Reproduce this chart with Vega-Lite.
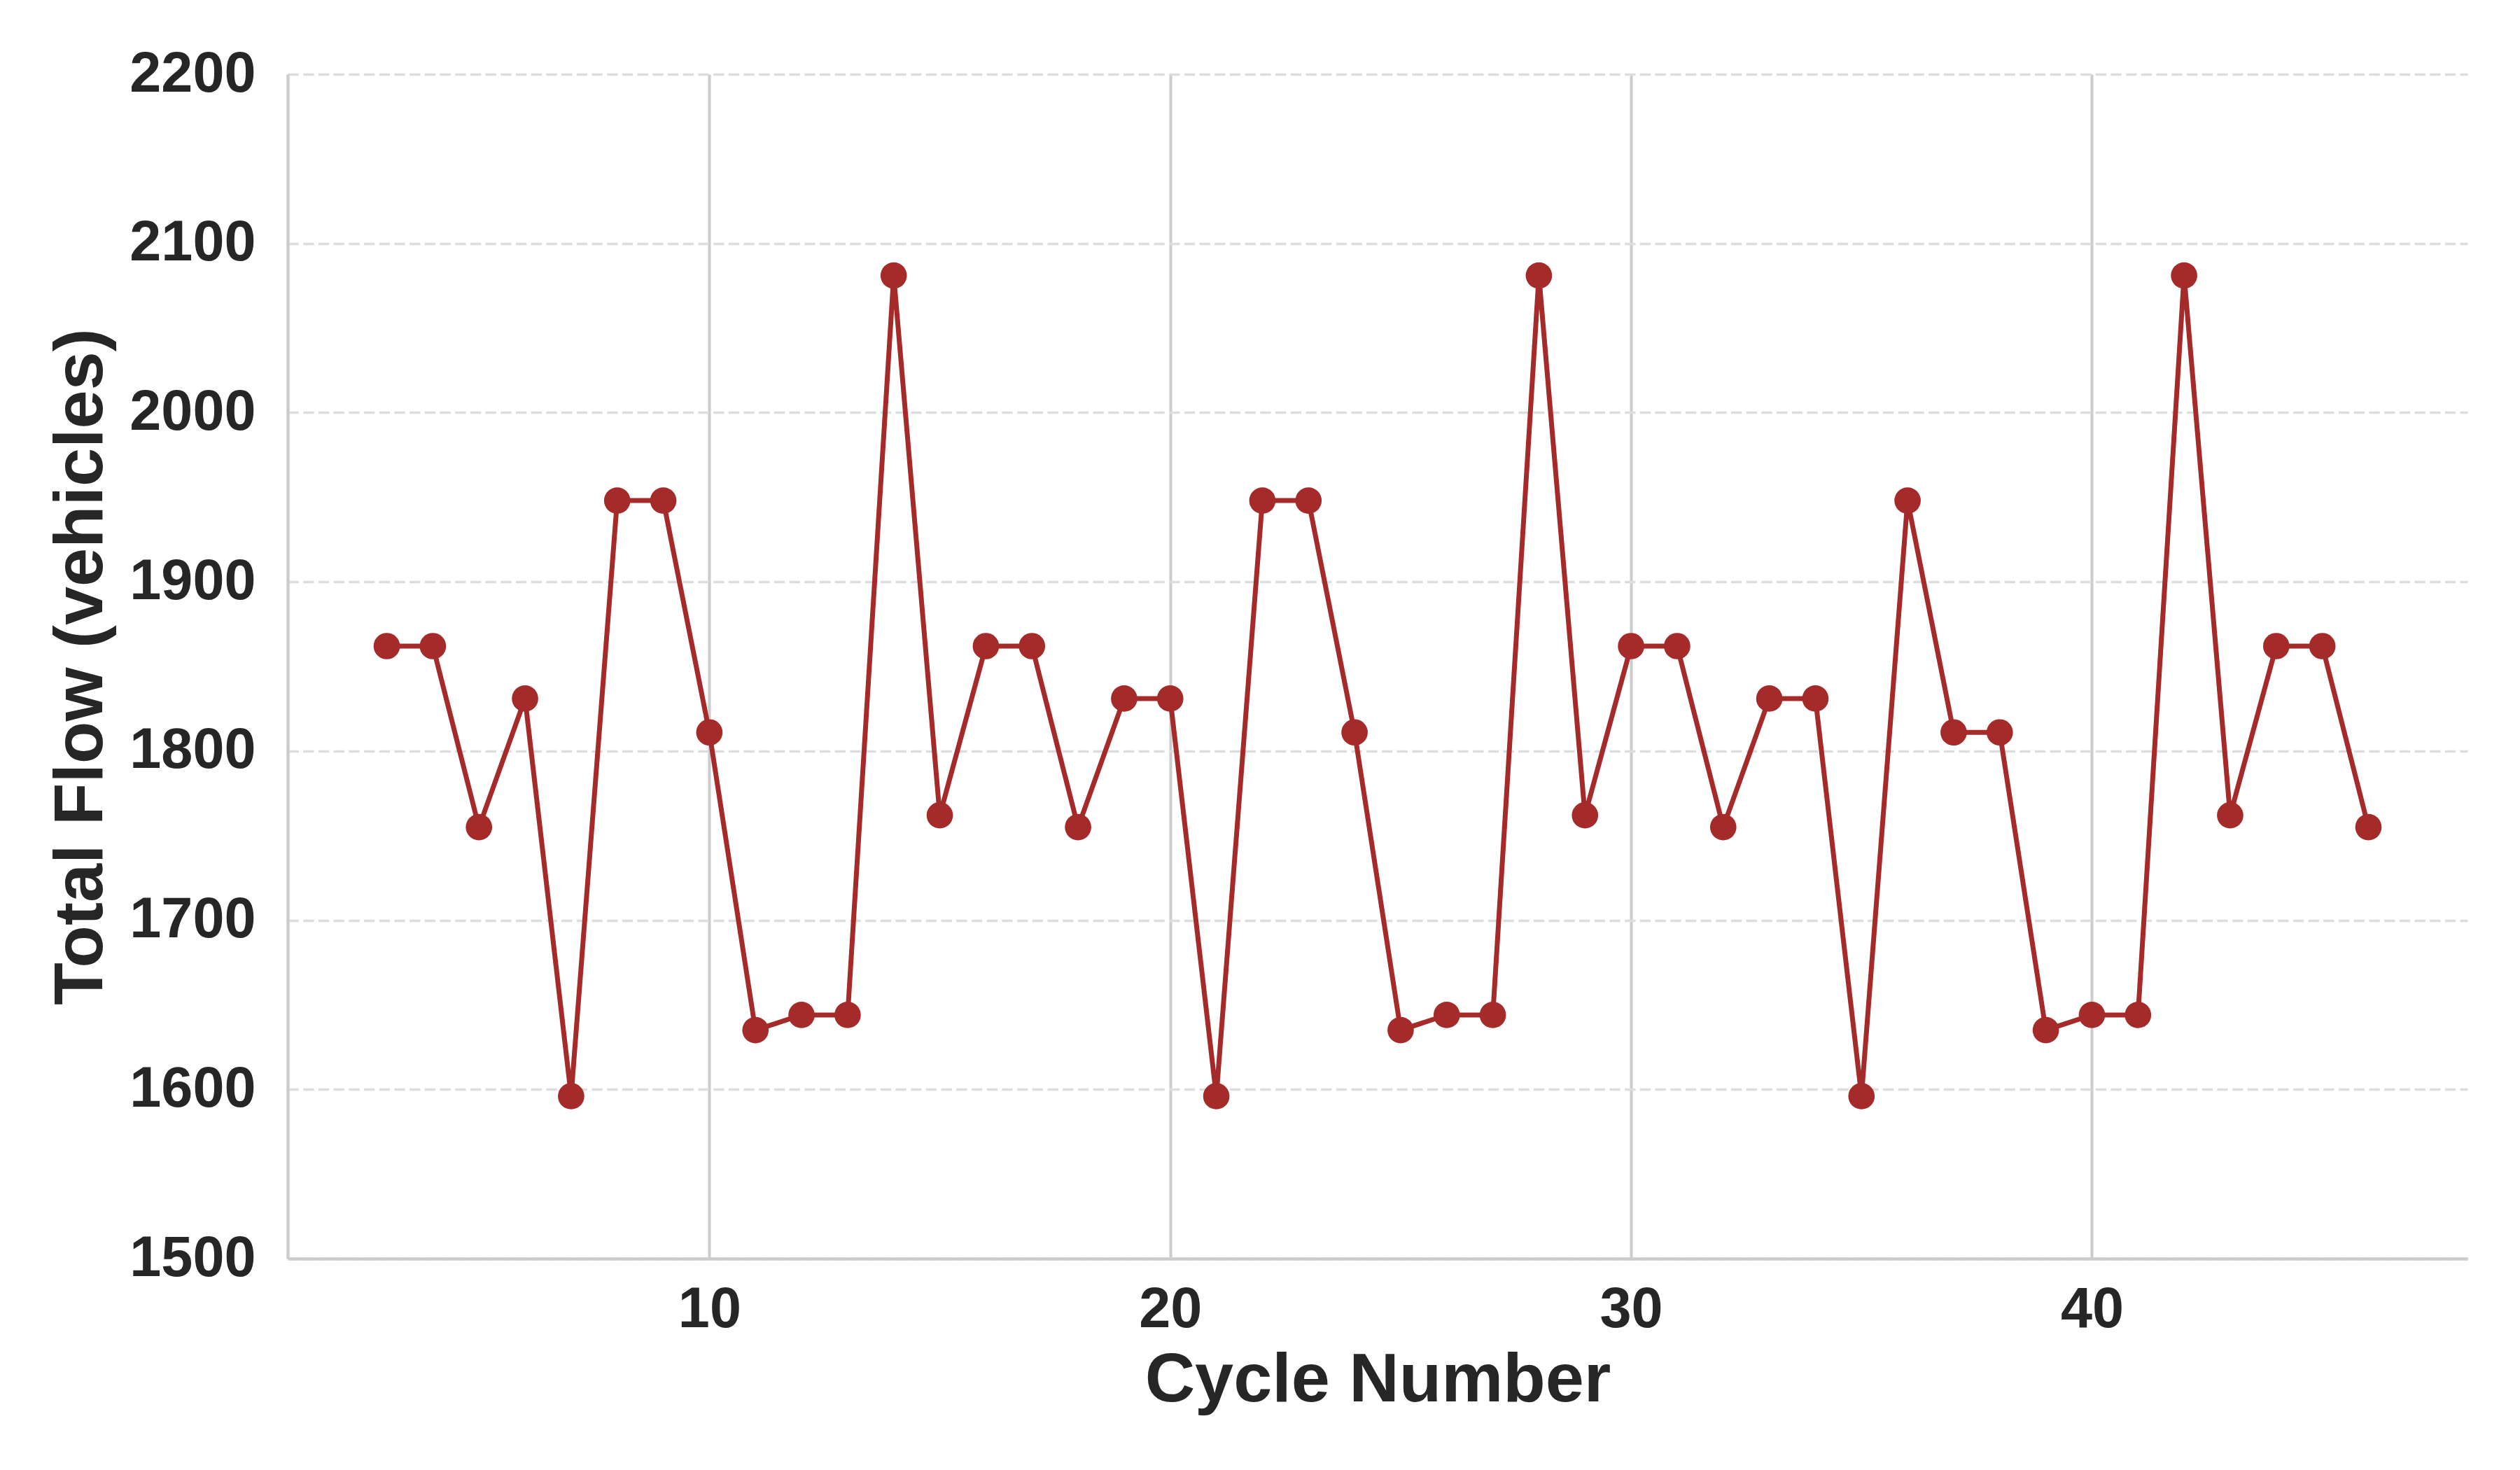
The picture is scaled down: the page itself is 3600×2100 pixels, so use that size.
{
  "$schema": "https://vega.github.io/schema/vega-lite/v6.json",
  "autosize": {"type": "none"},
  "padding": {"left": 411, "top": 106, "right": 75, "bottom": 302},
  "width": 3114,
  "height": 1692,
  "background": "white",
  "config": {
    "view": {"stroke": null},
    "font": "Liberation Sans",
    "axis": {
      "labelFont": "Liberation Sans",
      "titleFont": "Liberation Sans",
      "labelFontSize": 81,
      "labelFontWeight": "bold",
      "labelColor": "#262626",
      "labelLimit": 0,
      "titleFontSize": 99,
      "titleFontWeight": "bold",
      "titleColor": "#262626",
      "domainColor": "#cccccc",
      "domainWidth": 4.5,
      "ticks": false,
      "tickSize": 0
    }
  },
  "data": {
    "values": [
      {"cycle": 3, "flow": 1862}, {"cycle": 4, "flow": 1862}, {"cycle": 5, "flow": 1755},
      {"cycle": 6, "flow": 1831}, {"cycle": 7, "flow": 1596}, {"cycle": 8, "flow": 1948},
      {"cycle": 9, "flow": 1948}, {"cycle": 10, "flow": 1811}, {"cycle": 11, "flow": 1635},
      {"cycle": 12, "flow": 1644}, {"cycle": 13, "flow": 1644}, {"cycle": 14, "flow": 2081},
      {"cycle": 15, "flow": 1762}, {"cycle": 16, "flow": 1862}, {"cycle": 17, "flow": 1862},
      {"cycle": 18, "flow": 1755}, {"cycle": 19, "flow": 1831}, {"cycle": 20, "flow": 1831},
      {"cycle": 21, "flow": 1596}, {"cycle": 22, "flow": 1948}, {"cycle": 23, "flow": 1948},
      {"cycle": 24, "flow": 1811}, {"cycle": 25, "flow": 1635}, {"cycle": 26, "flow": 1644},
      {"cycle": 27, "flow": 1644}, {"cycle": 28, "flow": 2081}, {"cycle": 29, "flow": 1762},
      {"cycle": 30, "flow": 1862}, {"cycle": 31, "flow": 1862}, {"cycle": 32, "flow": 1755},
      {"cycle": 33, "flow": 1831}, {"cycle": 34, "flow": 1831}, {"cycle": 35, "flow": 1596},
      {"cycle": 36, "flow": 1948}, {"cycle": 37, "flow": 1811}, {"cycle": 38, "flow": 1811},
      {"cycle": 39, "flow": 1635}, {"cycle": 40, "flow": 1644}, {"cycle": 41, "flow": 1644},
      {"cycle": 42, "flow": 2081}, {"cycle": 43, "flow": 1762}, {"cycle": 44, "flow": 1862},
      {"cycle": 45, "flow": 1862}, {"cycle": 46, "flow": 1755}
    ]
  },
  "encoding": {
    "x": {
      "field": "cycle",
      "type": "quantitative",
      "scale": {"domain": [0.85, 48.15], "nice": false, "zero": false},
      "axis": {
        "title": "Cycle Number",
        "values": [10, 20, 30, 40],
        "format": "d",
        "labelPadding": 33,
        "titlePadding": 12,
        "grid": true,
        "gridColor": "#cccccc",
        "gridWidth": 4
      }
    },
    "y": {
      "field": "flow",
      "type": "quantitative",
      "scale": {"domain": [1500, 2200], "nice": false, "zero": false},
      "axis": {
        "title": "Total Flow (vehicles)",
        "values": [1500, 1600, 1700, 1800, 1900, 2000, 2100, 2200],
        "format": "d",
        "labelPadding": 46,
        "titlePadding": 45,
        "grid": true,
        "gridColor": "#dddddd",
        "gridWidth": 3.5,
        "gridDash": [15.3, 6.4]
      }
    }
  },
  "layer": [
    {
      "mark": {"type": "line", "color": "#a52a2a", "strokeWidth": 7}
    },
    {
      "mark": {"type": "point", "filled": true, "size": 1420, "color": "#a52a2a", "opacity": 1, "shape": "circle"}
    }
  ]
}
